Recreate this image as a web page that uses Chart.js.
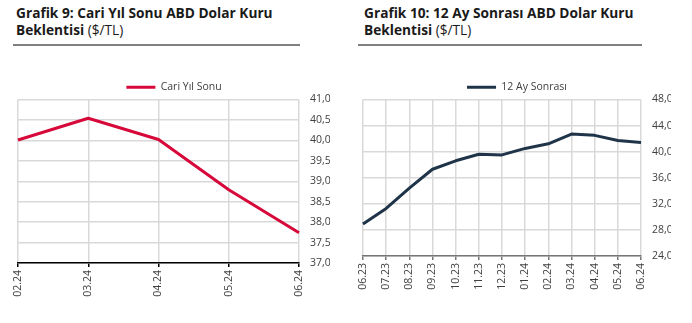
<!DOCTYPE html>
<html lang="tr">
<head>
<meta charset="UTF-8">
<title>ABD Dolar Kuru Beklentisi</title>
<script src="https://cdn.jsdelivr.net/npm/chart.js@4.4.2/dist/chart.umd.min.js"></script>
<style>
  body { margin: 0; width: 692px; height: 323px; background: #fff; position: relative; overflow: hidden;
         font-family: "Open Sans", sans-serif; color: #1a1a1a; }
  .title { position: absolute; top: 4px; font-size: 13.7px; font-weight: 700; line-height: 17px; white-space: nowrap; }
  .title span { font-weight: 400; }
  .rule { position: absolute; top: 44px; height: 2px; background: #808080; }
  .box { position: absolute; top: 50px; }
</style>
</head>
<body>
<div class="title" style="left:16px">Grafik 9: Cari Yıl Sonu ABD Dolar Kuru<br>Beklentisi <span>($/TL)</span></div>
<div class="rule" style="left:13px;width:287px"></div>
<div class="box" style="left:0"><canvas id="chart1" width="346" height="273"></canvas></div>

<div class="title" style="left:364px">Grafik 10: 12 Ay Sonrası ABD Dolar Kuru<br>Beklentisi <span>($/TL)</span></div>
<div class="rule" style="left:358px;width:284px"></div>
<div class="box" style="left:346px"><canvas id="chart2" width="346" height="273"></canvas></div>

<script>
// Grafik 9 verisi
const months1 = ['02.24', '03.24', '04.24', '05.24', '06.24'];
const cariYilSonu = [40.01, 40.54, 40.02, 38.79, 37.74];

// Grafik 10 verisi
const months2 = ['06.23', '07.23', '08.23', '09.23', '10.23', '11.23', '12.23',
                 '01.24', '02.24', '03.24', '04.24', '05.24', '06.24'];
const onIkiAySonrasi = [28.9, 31.3, 34.4, 37.3, 38.6, 39.6, 39.5, 40.5, 41.2, 42.7, 42.5, 41.7, 41.4];

const tickFont = { family: 'Open Sans', size: 10.5 };
const textColor = '#404040';
const gridColor = '#d9d9d9';

function fmt(v) { return v.toFixed(1).replace('.', ','); }

// lejant ile grafik alanı arasındaki boşluğu biraz daralt
const legendTrim = {
    id: 'legendTrim',
    beforeLayout(chart) {
        const lg = chart.legend;
        if (lg && !lg._trimmed) {
            const fit = lg.fit;
            lg.fit = function () { fit.call(this); this.height -= 3; };
            lg._trimmed = true;
        }
    }
};

function makeChart(id, labels, data, name, color, yMin, yMax, step, axisColor, pad, yWidth) {
    const ctx = document.getElementById(id).getContext('2d');
    return new Chart(ctx, {
        type: 'line',
        data: {
            labels: labels,
            datasets: [{
                label: name,
                data: data,
                borderColor: color,
                backgroundColor: color,
                borderWidth: 3,
                borderJoinStyle: 'round',
                pointRadius: 0,
                tension: 0
            }]
        },
        plugins: [legendTrim],
        options: {
            responsive: false,
            animation: false,
            devicePixelRatio: 1,
            layout: { padding: pad },
            plugins: {
                tooltip: { enabled: false },
                legend: {
                    labels: {
                        boxWidth: 29,
                        boxHeight: 3,
                        color: textColor,
                        font: tickFont,
                        generateLabels: function (chart) {
                            const items = Chart.defaults.plugins.legend.labels.generateLabels(chart);
                            items.forEach(it => { it.lineWidth = 0; });
                            return items;
                        }
                    }
                }
            },
            scales: {
                x: {
                    grid: { color: gridColor, lineWidth: 1.5, tickColor: axisColor, tickLength: 4 },
                    border: { color: axisColor, width: 1.5 },
                    ticks: { minRotation: 90, maxRotation: 90, color: textColor, font: tickFont, padding: 3 },
                    afterFit: function (s) { s.height = 40; }
                },
                y: {
                    position: 'right',
                    min: yMin,
                    max: yMax,
                    grid: { color: gridColor, lineWidth: 1.5, drawTicks: false },
                    border: { display: false },
                    ticks: { stepSize: step, color: textColor, font: tickFont, padding: 11,
                             callback: function (v) { return fmt(v); } },
                    afterFit: function (s) { s.width = yWidth; }
                }
            }
        }
    });
}

makeChart('chart1', months1, cariYilSonu, 'Cari Yıl Sonu', '#d6093a', 37, 41, 0.5, '#000000',
          { left: 18, right: 16, top: 22, bottom: 20 }, 31);
makeChart('chart2', months2, onIkiAySonrasi, '12 Ay Sonrası', '#1f3449', 24, 48, 4, '#767676',
          { left: 17, right: 21, top: 22, bottom: 27 }, 30);
</script>
</body>
</html>
